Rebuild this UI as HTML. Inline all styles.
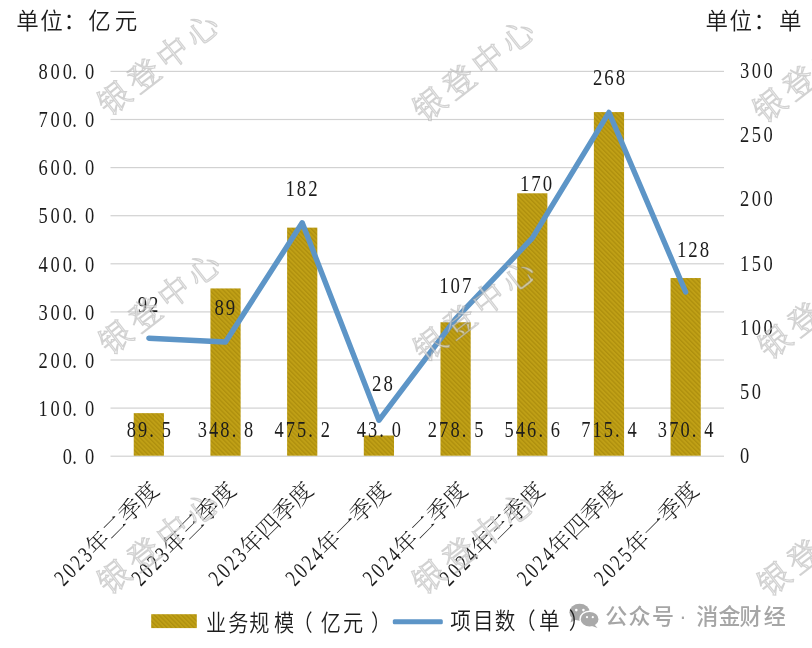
<!DOCTYPE html>
<html><head><meta charset="utf-8"><style>
html,body{margin:0;padding:0;background:#fff;}
body{width:812px;height:648px;overflow:hidden;position:relative;}
svg{position:absolute;left:0;top:0;}
</style></head><body>
<svg width="812" height="648" viewBox="0 0 812 648">
<defs><pattern id="hatch" width="3.2" height="3.2" patternUnits="userSpaceOnUse" patternTransform="rotate(-45)"><rect width="3.2" height="3.2" fill="#C0A016"/><rect width="1.3" height="3.2" fill="#AE8F0E"/></pattern></defs>
<rect x="110.5" y="455.60" width="613.5" height="1.2" fill="#D2D2D2"/>
<rect x="110.5" y="407.50" width="613.5" height="1.2" fill="#D2D2D2"/>
<rect x="110.5" y="359.40" width="613.5" height="1.2" fill="#D2D2D2"/>
<rect x="110.5" y="311.30" width="613.5" height="1.2" fill="#D2D2D2"/>
<rect x="110.5" y="263.20" width="613.5" height="1.2" fill="#D2D2D2"/>
<rect x="110.5" y="215.10" width="613.5" height="1.2" fill="#D2D2D2"/>
<rect x="110.5" y="167.00" width="613.5" height="1.2" fill="#D2D2D2"/>
<rect x="110.5" y="118.90" width="613.5" height="1.2" fill="#D2D2D2"/>
<rect x="110.5" y="70.80" width="613.5" height="1.2" fill="#D2D2D2"/>
<rect x="133.74" y="413.15" width="30.2" height="42.55" fill="url(#hatch)"/>
<rect x="210.43" y="288.43" width="30.2" height="167.27" fill="url(#hatch)"/>
<rect x="287.12" y="227.63" width="30.2" height="228.07" fill="url(#hatch)"/>
<rect x="363.81" y="435.52" width="30.2" height="20.18" fill="url(#hatch)"/>
<rect x="440.49" y="322.24" width="30.2" height="133.46" fill="url(#hatch)"/>
<rect x="517.18" y="193.29" width="30.2" height="262.41" fill="url(#hatch)"/>
<rect x="593.87" y="112.09" width="30.2" height="343.61" fill="url(#hatch)"/>
<rect x="670.56" y="278.04" width="30.2" height="177.66" fill="url(#hatch)"/>
<polyline points="148.84,338.19 225.53,342.04 302.22,222.75 378.91,420.29 455.59,318.95 532.28,238.15 608.97,112.45 685.66,292.02" fill="none" stroke="#5D95C7" stroke-width="5.4" stroke-linejoin="round" stroke-linecap="round"/>
<text transform="scale(0.78,1)" x="80.36 92.68 109.08" y="463.96" font-size="23.7" font-family="'Liberation Serif', serif" fill="#1c1c1c">0.0</text>
<text transform="scale(0.78,1)" x="49.33 64.84 80.36 92.68 109.08" y="415.86" font-size="23.7" font-family="'Liberation Serif', serif" fill="#1c1c1c">100.0</text>
<text transform="scale(0.78,1)" x="49.33 64.84 80.36 92.68 109.08" y="367.76" font-size="23.7" font-family="'Liberation Serif', serif" fill="#1c1c1c">200.0</text>
<text transform="scale(0.78,1)" x="49.33 64.84 80.36 92.68 109.08" y="319.66" font-size="23.7" font-family="'Liberation Serif', serif" fill="#1c1c1c">300.0</text>
<text transform="scale(0.78,1)" x="49.33 64.84 80.36 92.68 109.08" y="271.56" font-size="23.7" font-family="'Liberation Serif', serif" fill="#1c1c1c">400.0</text>
<text transform="scale(0.78,1)" x="49.33 64.84 80.36 92.68 109.08" y="223.46" font-size="23.7" font-family="'Liberation Serif', serif" fill="#1c1c1c">500.0</text>
<text transform="scale(0.78,1)" x="49.33 64.84 80.36 92.68 109.08" y="175.36" font-size="23.7" font-family="'Liberation Serif', serif" fill="#1c1c1c">600.0</text>
<text transform="scale(0.78,1)" x="49.33 64.84 80.36 92.68 109.08" y="127.26" font-size="23.7" font-family="'Liberation Serif', serif" fill="#1c1c1c">700.0</text>
<text transform="scale(0.78,1)" x="49.33 64.84 80.36 92.68 109.08" y="79.16" font-size="23.7" font-family="'Liberation Serif', serif" fill="#1c1c1c">800.0</text>
<text transform="scale(0.79,1)" x="936.68" y="462.96" font-size="23.4" font-family="'Liberation Serif', serif" fill="#1c1c1c">0</text>
<text transform="scale(0.79,1)" x="936.68 951.62" y="398.83" font-size="23.4" font-family="'Liberation Serif', serif" fill="#1c1c1c">50</text>
<text transform="scale(0.79,1)" x="936.68 951.62 966.56" y="334.70" font-size="23.4" font-family="'Liberation Serif', serif" fill="#1c1c1c">100</text>
<text transform="scale(0.79,1)" x="936.68 951.62 966.56" y="270.56" font-size="23.4" font-family="'Liberation Serif', serif" fill="#1c1c1c">150</text>
<text transform="scale(0.79,1)" x="936.68 951.62 966.56" y="206.43" font-size="23.4" font-family="'Liberation Serif', serif" fill="#1c1c1c">200</text>
<text transform="scale(0.79,1)" x="936.68 951.62 966.56" y="142.30" font-size="23.4" font-family="'Liberation Serif', serif" fill="#1c1c1c">250</text>
<text transform="scale(0.79,1)" x="936.68 951.62 966.56" y="78.16" font-size="23.4" font-family="'Liberation Serif', serif" fill="#1c1c1c">300</text>
<text transform="scale(0.8,1)" x="158.37 172.49 186.62 202.24" y="437.00" font-size="23.0" font-family="'Liberation Serif', serif" fill="#1c1c1c">89.5</text>
<text transform="scale(0.8,1)" x="247.16 261.29 275.41 289.54 305.16" y="437.00" font-size="23.0" font-family="'Liberation Serif', serif" fill="#1c1c1c">348.8</text>
<text transform="scale(0.8,1)" x="343.02 357.15 371.27 385.40 401.02" y="437.00" font-size="23.0" font-family="'Liberation Serif', serif" fill="#1c1c1c">475.2</text>
<text transform="scale(0.8,1)" x="445.95 460.07 474.20 489.82" y="437.00" font-size="23.0" font-family="'Liberation Serif', serif" fill="#1c1c1c">43.0</text>
<text transform="scale(0.8,1)" x="534.74 548.87 562.99 577.12 592.74" y="437.00" font-size="23.0" font-family="'Liberation Serif', serif" fill="#1c1c1c">278.5</text>
<text transform="scale(0.8,1)" x="630.60 644.73 658.85 672.98 688.60" y="437.00" font-size="23.0" font-family="'Liberation Serif', serif" fill="#1c1c1c">546.6</text>
<text transform="scale(0.8,1)" x="726.46 740.59 754.71 768.84 784.46" y="437.00" font-size="23.0" font-family="'Liberation Serif', serif" fill="#1c1c1c">715.4</text>
<text transform="scale(0.8,1)" x="822.32 836.45 850.57 864.70 880.32" y="437.00" font-size="23.0" font-family="'Liberation Serif', serif" fill="#1c1c1c">370.4</text>
<text transform="scale(0.84,1)" x="163.92 177.50" y="311.74" font-size="22.4" font-family="'Liberation Serif', serif" fill="#1c1c1c">92</text>
<text transform="scale(0.84,1)" x="255.23 268.80" y="315.44" font-size="22.4" font-family="'Liberation Serif', serif" fill="#1c1c1c">89</text>
<text transform="scale(0.84,1)" x="339.76 353.33 366.90" y="195.94" font-size="22.4" font-family="'Liberation Serif', serif" fill="#1c1c1c">182</text>
<text transform="scale(0.84,1)" x="442.85 456.42" y="391.14" font-size="22.4" font-family="'Liberation Serif', serif" fill="#1c1c1c">28</text>
<text transform="scale(0.84,1)" x="522.85 536.42 550.00" y="293.34" font-size="22.4" font-family="'Liberation Serif', serif" fill="#1c1c1c">107</text>
<text transform="scale(0.84,1)" x="618.92 632.50 646.07" y="191.34" font-size="22.4" font-family="'Liberation Serif', serif" fill="#1c1c1c">170</text>
<text transform="scale(0.84,1)" x="705.83 719.40 732.97" y="85.34" font-size="22.4" font-family="'Liberation Serif', serif" fill="#1c1c1c">268</text>
<text transform="scale(0.84,1)" x="805.83 819.40 832.97" y="256.84" font-size="22.4" font-family="'Liberation Serif', serif" fill="#1c1c1c">128</text>
<text transform="translate(154.34,485.50) rotate(-45)" x="-92.00" y="8.72" font-size="23.0" font-family="'Liberation Serif', 'Noto Serif CJK SC', serif" font-weight="300" fill="#1c1c1c">年二季度</text>
<text transform="translate(154.34,485.50) rotate(-45) scale(0.76,1)" x="-178.91 -164.04 -149.17 -134.30" y="7.53" font-size="23.0" font-family="'Liberation Serif', serif" fill="#1c1c1c">2023</text>
<text transform="translate(231.44,485.50) rotate(-45)" x="-92.00" y="8.72" font-size="23.0" font-family="'Liberation Serif', 'Noto Serif CJK SC', serif" font-weight="300" fill="#1c1c1c">年三季度</text>
<text transform="translate(231.44,485.50) rotate(-45) scale(0.76,1)" x="-178.91 -164.04 -149.17 -134.30" y="7.53" font-size="23.0" font-family="'Liberation Serif', serif" fill="#1c1c1c">2023</text>
<text transform="translate(308.54,485.50) rotate(-45)" x="-92.00" y="8.72" font-size="23.0" font-family="'Liberation Serif', 'Noto Serif CJK SC', serif" font-weight="300" fill="#1c1c1c">年四季度</text>
<text transform="translate(308.54,485.50) rotate(-45) scale(0.76,1)" x="-178.91 -164.04 -149.17 -134.30" y="7.53" font-size="23.0" font-family="'Liberation Serif', serif" fill="#1c1c1c">2023</text>
<text transform="translate(385.64,485.50) rotate(-45)" x="-92.00" y="8.72" font-size="23.0" font-family="'Liberation Serif', 'Noto Serif CJK SC', serif" font-weight="300" fill="#1c1c1c">年一季度</text>
<text transform="translate(385.64,485.50) rotate(-45) scale(0.76,1)" x="-178.91 -164.04 -149.17 -134.30" y="7.53" font-size="23.0" font-family="'Liberation Serif', serif" fill="#1c1c1c">2024</text>
<text transform="translate(462.74,485.50) rotate(-45)" x="-92.00" y="8.72" font-size="23.0" font-family="'Liberation Serif', 'Noto Serif CJK SC', serif" font-weight="300" fill="#1c1c1c">年二季度</text>
<text transform="translate(462.74,485.50) rotate(-45) scale(0.76,1)" x="-178.91 -164.04 -149.17 -134.30" y="7.53" font-size="23.0" font-family="'Liberation Serif', serif" fill="#1c1c1c">2024</text>
<text transform="translate(539.84,485.50) rotate(-45)" x="-92.00" y="8.72" font-size="23.0" font-family="'Liberation Serif', 'Noto Serif CJK SC', serif" font-weight="300" fill="#1c1c1c">年三季度</text>
<text transform="translate(539.84,485.50) rotate(-45) scale(0.76,1)" x="-178.91 -164.04 -149.17 -134.30" y="7.53" font-size="23.0" font-family="'Liberation Serif', serif" fill="#1c1c1c">2024</text>
<text transform="translate(616.94,485.50) rotate(-45)" x="-92.00" y="8.72" font-size="23.0" font-family="'Liberation Serif', 'Noto Serif CJK SC', serif" font-weight="300" fill="#1c1c1c">年四季度</text>
<text transform="translate(616.94,485.50) rotate(-45) scale(0.76,1)" x="-178.91 -164.04 -149.17 -134.30" y="7.53" font-size="23.0" font-family="'Liberation Serif', serif" fill="#1c1c1c">2024</text>
<text transform="translate(694.04,485.50) rotate(-45)" x="-92.00" y="8.72" font-size="23.0" font-family="'Liberation Serif', 'Noto Serif CJK SC', serif" font-weight="300" fill="#1c1c1c">年一季度</text>
<text transform="translate(694.04,485.50) rotate(-45) scale(0.76,1)" x="-178.91 -164.04 -149.17 -134.30" y="7.53" font-size="23.0" font-family="'Liberation Serif', serif" fill="#1c1c1c">2025</text>
<g fill="#A9A9A9"><ellipse cx="579.6" cy="612.2" rx="10.2" ry="8.5"/><path d="M572 617 L570.5 622.5 L576 619.5 Z"/><ellipse cx="589.6" cy="619.2" rx="9.6" ry="8" stroke="#fff" stroke-width="1.4"/><path d="M594 624 L597.5 628 L592 626 Z"/></g><g fill="#fff"><circle cx="576.3" cy="610.1" r="1.3"/><circle cx="583.4" cy="610.1" r="1.3"/><circle cx="587" cy="617.2" r="1.1"/><circle cx="592.8" cy="617.2" r="1.1"/></g>
<text transform="scale(1.0,1)" x="16.20 40.20 63.60 88.30 114.70" y="28.60" font-size="22.5" font-family="'Liberation Sans', 'Noto Sans CJK SC', sans-serif" font-weight="350" fill="#1c1c1c">单位：亿元</text>
<text transform="scale(1.0,1)" x="705.50 729.60 753.60 779.10" y="28.75" font-size="22.5" font-family="'Liberation Sans', 'Noto Sans CJK SC', sans-serif" font-weight="350" fill="#1c1c1c">单位：单</text>
<text transform="scale(0.88,1)" x="234.09 259.32 283.30 311.25 332.39 364.43 389.66 421.59" y="630.55" font-size="22.9" font-family="'Liberation Sans', 'Noto Sans CJK SC', sans-serif" font-weight="350" fill="#1c1c1c">业务规模（亿元）</text>
<text transform="scale(0.9,1)" x="500.22 525.56 549.78 572.22 598.89 631.89" y="629.10" font-size="22.9" font-family="'Liberation Sans', 'Noto Sans CJK SC', sans-serif" font-weight="350" fill="#1c1c1c">项目数（单）</text>
<text transform="scale(1.0,1)" x="605.20 628.60 652.00 679.30 696.30 718.50 739.40 763.80" y="624.10" font-size="22" font-family="'Liberation Sans', 'Noto Sans CJK SC', sans-serif" font-weight="500" fill="#A6A6A6">公众号·消金财经</text>
<rect x="151.2" y="614.2" width="45.6" height="13.9" fill="url(#hatch)"/>
<rect x="392.8" y="619.2" width="50" height="5" rx="1.5" fill="#5D95C7"/>
<text transform="translate(114.2,97.9) rotate(-37.9)" x="-16.0" y="12.1" font-size="32" letter-spacing="5" fill="rgba(250,250,250,0.62)" stroke="rgba(150,150,150,0.42)" stroke-width="1.25" font-family="'Liberation Serif', 'Noto Serif CJK SC', serif" font-weight="300">银登中心</text>
<text transform="translate(429.5,104.0) rotate(-37.9)" x="-16.0" y="12.1" font-size="32" letter-spacing="5" fill="rgba(250,250,250,0.62)" stroke="rgba(150,150,150,0.42)" stroke-width="1.25" font-family="'Liberation Serif', 'Noto Serif CJK SC', serif" font-weight="300">银登中心</text>
<text transform="translate(769.5,105.0) rotate(-37.9)" x="-16.0" y="12.1" font-size="32" letter-spacing="5" fill="rgba(250,250,250,0.62)" stroke="rgba(150,150,150,0.42)" stroke-width="1.25" font-family="'Liberation Serif', 'Noto Serif CJK SC', serif" font-weight="300">银登中心</text>
<text transform="translate(115.5,337.0) rotate(-37.9)" x="-16.0" y="12.1" font-size="32" letter-spacing="5" fill="rgba(250,250,250,0.62)" stroke="rgba(150,150,150,0.42)" stroke-width="1.25" font-family="'Liberation Serif', 'Noto Serif CJK SC', serif" font-weight="300">银登中心</text>
<text transform="translate(430.0,344.0) rotate(-37.9)" x="-16.0" y="12.1" font-size="32" letter-spacing="5" fill="rgba(250,250,250,0.62)" stroke="rgba(150,150,150,0.42)" stroke-width="1.25" font-family="'Liberation Serif', 'Noto Serif CJK SC', serif" font-weight="300">银登中心</text>
<text transform="translate(774.6,341.5) rotate(-37.9)" x="-16.0" y="12.1" font-size="32" letter-spacing="5" fill="rgba(250,250,250,0.62)" stroke="rgba(150,150,150,0.42)" stroke-width="1.25" font-family="'Liberation Serif', 'Noto Serif CJK SC', serif" font-weight="300">银登中心</text>
<text transform="translate(114.0,576.5) rotate(-37.9)" x="-16.0" y="12.1" font-size="32" letter-spacing="5" fill="rgba(250,250,250,0.62)" stroke="rgba(150,150,150,0.42)" stroke-width="1.25" font-family="'Liberation Serif', 'Noto Serif CJK SC', serif" font-weight="300">银登中心</text>
<text transform="translate(429.0,576.5) rotate(-37.9)" x="-16.0" y="12.1" font-size="32" letter-spacing="5" fill="rgba(250,250,250,0.62)" stroke="rgba(150,150,150,0.42)" stroke-width="1.25" font-family="'Liberation Serif', 'Noto Serif CJK SC', serif" font-weight="300">银登中心</text>
<text transform="translate(774.0,578.5) rotate(-37.9)" x="-16.0" y="12.1" font-size="32" letter-spacing="5" fill="rgba(250,250,250,0.62)" stroke="rgba(150,150,150,0.42)" stroke-width="1.25" font-family="'Liberation Serif', 'Noto Serif CJK SC', serif" font-weight="300">银登中心</text>
</svg>
</body></html>
